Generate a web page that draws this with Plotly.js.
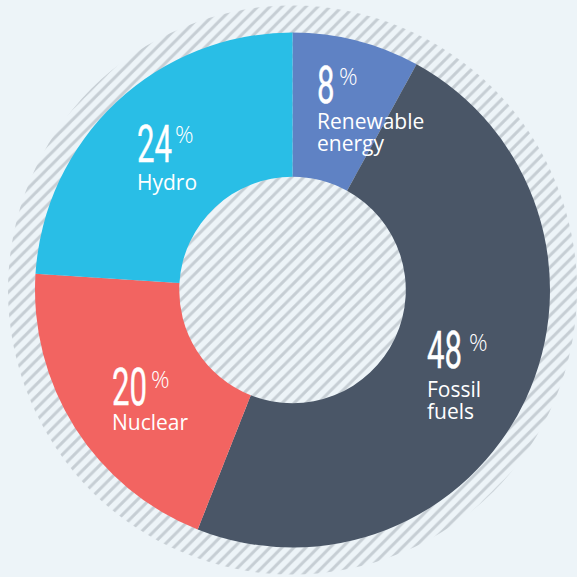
<!DOCTYPE html>
<html>
<head>
<meta charset="utf-8">
<script src="https://cdn.plot.ly/plotly-3.0.1.min.js"></script>
<style>
  html, body { margin: 0; padding: 0; background: #edf4f8; }
  #chart { width: 577px; height: 577px; }
</style>
</head>
<body>
<div id="chart"></div>
<script>
// ---- data ----
const categories = ['Renewable energy', 'Fossil fuels', 'Nuclear', 'Hydro'];
const shares = [8, 48, 20, 24];
const labelLines = [['Renewable', 'energy'], ['Fossil', 'fuels'], ['Nuclear'], ['Hydro']];
const sliceColors = ['#5f82c4', '#4a5667', '#f26461', '#29bee6'];

// ---- label placement (pixels in the 577x577 canvas) ----
const W = 577, H = 577;
const numberPos = [[317, 85.5], [427, 350.5], [112, 387.5], [137, 144]];   // left, vertical centre of digits
const pctPos = [[339, 76], [469, 342], [151, 379], [175, 134]];
const lineBaselines = [[129, 151], [397, 419], [430], [190]];

const px = x => x / W;
const py = y => 1 - y / H;

const bg = '#edf4f8';
const NUM_FS = 52, NUM_K = 0.6, PCT_FS = 23, LAB_FS = 21;

const traces = [
  {
    type: 'pie',
    values: [1],
    labels: ['bg'],
    sort: false,
    textinfo: 'none',
    hoverinfo: 'skip',
    domain: { x: [8 / W, 1], y: [py(574.5), py(5.5)] },
    marker: {
      colors: [bg],
      line: { width: 0 },
      pattern: { shape: '/', fgcolor: '#c6ced4', bgcolor: bg, size: 8.5, solidity: 0.35 }
    },
    showlegend: false
  },
  {
    type: 'pie',
    values: shares,
    labels: categories,
    sort: false,
    direction: 'clockwise',
    rotation: 0,
    hole: 0.44,
    textinfo: 'none',
    hoverinfo: 'label+percent',
    domain: { x: [35 / W, 550 / W], y: [py(548), py(32)] },
    marker: { colors: sliceColors, line: { width: 0 } },
    showlegend: false
  }
];

const annotations = [];
// numbers first (indices 0..3)
shares.forEach((v, i) => {
  annotations.push({
    xref: 'paper', yref: 'paper',
    x: px(numberPos[i][0]), y: py(numberPos[i][1]),
    xanchor: 'left', yanchor: 'middle', align: 'left',
    text: String(v), showarrow: false, borderpad: 0, borderwidth: 0,
    font: { family: 'Roboto, sans-serif', size: NUM_FS, color: '#ffffff' }
  });
});
shares.forEach((v, i) => {
  annotations.push({
    xref: 'paper', yref: 'paper',
    x: px(pctPos[i][0]), y: py(pctPos[i][1]),
    xanchor: 'left', yanchor: 'middle',
    text: '%', showarrow: false, borderpad: 0, borderwidth: 0,
    font: { family: 'Open Sans, sans-serif', size: PCT_FS, color: '#ffffff', weight: 300 }
  });
});
labelLines.forEach((lines, i) => {
  lines.forEach((t, j) => {
    const cy = lineBaselines[i][j] - 0.388 * LAB_FS;
    annotations.push({
      xref: 'paper', yref: 'paper',
      x: px(numberPos[i][0]), y: py(cy),
      xanchor: 'left', yanchor: 'middle',
      text: t, showarrow: false, borderpad: 0, borderwidth: 0,
      font: { family: 'Open Sans, sans-serif', size: LAB_FS, color: '#ffffff' }
    });
  });
});

const layout = {
  width: W, height: H,
  margin: { l: 0, r: 0, t: 0, b: 0 },
  paper_bgcolor: bg,
  plot_bgcolor: bg,
  showlegend: false,
  annotations: annotations
};

Plotly.newPlot('chart', traces, layout, { displayModeBar: false, staticPlot: true }).then(() => {
  // condense the large numbers horizontally
  for (let i = 0; i < shares.length; i++) {
    const el = document.querySelector('g.annotation[data-index="' + i + '"] text.annotation-text');
    if (!el) continue;
    const bb = el.getBBox();
    const prev = el.getAttribute('transform') || '';
    el.setAttribute('transform', prev + ' translate(' + bb.x + ',0) scale(' + NUM_K + ',1) translate(' + (-bb.x) + ',0)');
    el.style.stroke = '#ffffff';
    el.style.strokeWidth = '0.4px';
  }
});
</script>
</body>
</html>
